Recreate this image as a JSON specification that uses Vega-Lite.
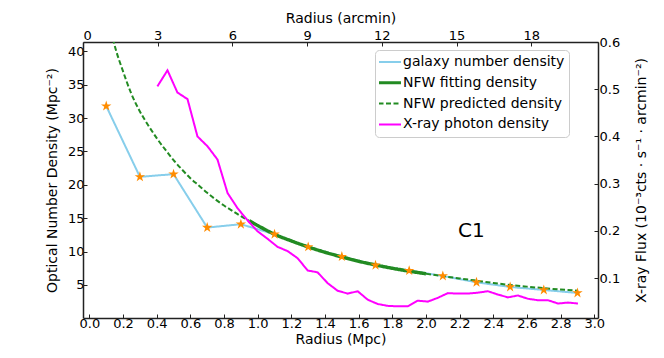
{
  "$schema": "https://vega.github.io/schema/vega-lite/v6.json",
  "width": 515,
  "height": 276,
  "autosize": {"type": "none"},
  "padding": {"left": 83, "top": 42, "right": 66, "bottom": 40},
  "background": "white",
  "config": {
    "view": {"stroke": null},
    "font": "DejaVu Sans",
    "axis": {
      "labelFont": "DejaVu Sans", "labelFontSize": 13, "labelColor": "black",
      "titleFont": "DejaVu Sans", "titleFontSize": 14, "titleFontWeight": "normal", "titleColor": "black",
      "domainColor": "#222", "domainWidth": 1.5, "tickColor": "#222", "tickSize": -4, "tickWidth": 1,
      "grid": false, "labelPadding": 3
    }
  },
  "datasets": {
    "galaxy": [
      {"r": 0.1, "n": 31.8, "series": "galaxy number density"},
      {"r": 0.3, "n": 21.2, "series": "galaxy number density"},
      {"r": 0.5, "n": 21.6, "series": "galaxy number density"},
      {"r": 0.7, "n": 13.6, "series": "galaxy number density"},
      {"r": 0.9, "n": 14.1, "series": "galaxy number density"},
      {"r": 1.1, "n": 12.6, "series": "galaxy number density"},
      {"r": 1.3, "n": 10.7, "series": "galaxy number density"},
      {"r": 1.5, "n": 9.25, "series": "galaxy number density"},
      {"r": 1.7, "n": 7.95, "series": "galaxy number density"},
      {"r": 1.9, "n": 7.15, "series": "galaxy number density"},
      {"r": 2.1, "n": 6.35, "series": "galaxy number density"},
      {"r": 2.3, "n": 5.4, "series": "galaxy number density"},
      {"r": 2.5, "n": 4.7, "series": "galaxy number density"},
      {"r": 2.7, "n": 4.25, "series": "galaxy number density"},
      {"r": 2.9, "n": 3.8, "series": "galaxy number density"}
    ],
    "nfwfit": [
      {"r": 0.95, "n": 14.6, "series": "NFW fitting density"},
      {"r": 1.0, "n": 13.9, "series": "NFW fitting density"},
      {"r": 1.1, "n": 12.6, "series": "NFW fitting density"},
      {"r": 1.2, "n": 11.6, "series": "NFW fitting density"},
      {"r": 1.3, "n": 10.7, "series": "NFW fitting density"},
      {"r": 1.4, "n": 9.9, "series": "NFW fitting density"},
      {"r": 1.5, "n": 9.2, "series": "NFW fitting density"},
      {"r": 1.6, "n": 8.55, "series": "NFW fitting density"},
      {"r": 1.7, "n": 8.0, "series": "NFW fitting density"},
      {"r": 1.8, "n": 7.5, "series": "NFW fitting density"},
      {"r": 1.9, "n": 7.07, "series": "NFW fitting density"},
      {"r": 2.0, "n": 6.68, "series": "NFW fitting density"}
    ],
    "nfwpred": [
      {"r": 0.13, "n": 43.0, "seg": "a", "series": "NFW predicted density"},
      {"r": 0.15, "n": 40.9, "seg": "a", "series": "NFW predicted density"},
      {"r": 0.2, "n": 37.0, "seg": "a", "series": "NFW predicted density"},
      {"r": 0.25, "n": 33.6, "seg": "a", "series": "NFW predicted density"},
      {"r": 0.3, "n": 31.0, "seg": "a", "series": "NFW predicted density"},
      {"r": 0.35, "n": 28.9, "seg": "a", "series": "NFW predicted density"},
      {"r": 0.4, "n": 27.0, "seg": "a", "series": "NFW predicted density"},
      {"r": 0.45, "n": 25.3, "seg": "a", "series": "NFW predicted density"},
      {"r": 0.5, "n": 23.7, "seg": "a", "series": "NFW predicted density"},
      {"r": 0.55, "n": 22.3, "seg": "a", "series": "NFW predicted density"},
      {"r": 0.6, "n": 21.0, "seg": "a", "series": "NFW predicted density"},
      {"r": 0.65, "n": 19.9, "seg": "a", "series": "NFW predicted density"},
      {"r": 0.7, "n": 18.8, "seg": "a", "series": "NFW predicted density"},
      {"r": 0.75, "n": 17.8, "seg": "a", "series": "NFW predicted density"},
      {"r": 0.8, "n": 16.9, "seg": "a", "series": "NFW predicted density"},
      {"r": 0.85, "n": 16.1, "seg": "a", "series": "NFW predicted density"},
      {"r": 0.9, "n": 15.3, "seg": "a", "series": "NFW predicted density"},
      {"r": 0.95, "n": 14.6, "seg": "a", "series": "NFW predicted density"},
      {"r": 2.0, "n": 6.68, "seg": "b", "series": "NFW predicted density"},
      {"r": 2.1, "n": 6.32, "seg": "b", "series": "NFW predicted density"},
      {"r": 2.2, "n": 5.98, "seg": "b", "series": "NFW predicted density"},
      {"r": 2.3, "n": 5.64, "seg": "b", "series": "NFW predicted density"},
      {"r": 2.4, "n": 5.3, "seg": "b", "series": "NFW predicted density"},
      {"r": 2.5, "n": 5.0, "seg": "b", "series": "NFW predicted density"},
      {"r": 2.6, "n": 4.75, "seg": "b", "series": "NFW predicted density"},
      {"r": 2.7, "n": 4.52, "seg": "b", "series": "NFW predicted density"},
      {"r": 2.8, "n": 4.32, "seg": "b", "series": "NFW predicted density"},
      {"r": 2.9, "n": 4.15, "seg": "b", "series": "NFW predicted density"}
    ],
    "xray": [
      {"r": 0.404, "f": 0.506, "series": "X-ray photon density"}, {"r": 0.464, "f": 0.540, "series": "X-ray photon density"}, {"r": 0.523, "f": 0.493, "series": "X-ray photon density"},
      {"r": 0.583, "f": 0.479, "series": "X-ray photon density"}, {"r": 0.642, "f": 0.400, "series": "X-ray photon density"}, {"r": 0.702, "f": 0.379, "series": "X-ray photon density"},
      {"r": 0.761, "f": 0.351, "series": "X-ray photon density"}, {"r": 0.821, "f": 0.280, "series": "X-ray photon density"}, {"r": 0.880, "f": 0.248, "series": "X-ray photon density"},
      {"r": 0.940, "f": 0.222, "series": "X-ray photon density"}, {"r": 0.999, "f": 0.199, "series": "X-ray photon density"}, {"r": 1.059, "f": 0.183, "series": "X-ray photon density"},
      {"r": 1.118, "f": 0.166, "series": "X-ray photon density"}, {"r": 1.178, "f": 0.157, "series": "X-ray photon density"}, {"r": 1.237, "f": 0.142, "series": "X-ray photon density"},
      {"r": 1.297, "f": 0.116, "series": "X-ray photon density"}, {"r": 1.356, "f": 0.112, "series": "X-ray photon density"}, {"r": 1.416, "f": 0.089, "series": "X-ray photon density"},
      {"r": 1.475, "f": 0.073, "series": "X-ray photon density"}, {"r": 1.535, "f": 0.067, "series": "X-ray photon density"}, {"r": 1.594, "f": 0.072, "series": "X-ray photon density"},
      {"r": 1.654, "f": 0.054, "series": "X-ray photon density"}, {"r": 1.713, "f": 0.045, "series": "X-ray photon density"}, {"r": 1.773, "f": 0.041, "series": "X-ray photon density"},
      {"r": 1.832, "f": 0.040, "series": "X-ray photon density"}, {"r": 1.892, "f": 0.040, "series": "X-ray photon density"}, {"r": 1.951, "f": 0.052, "series": "X-ray photon density"},
      {"r": 2.011, "f": 0.050, "series": "X-ray photon density"}, {"r": 2.070, "f": 0.058, "series": "X-ray photon density"}, {"r": 2.130, "f": 0.068, "series": "X-ray photon density"},
      {"r": 2.189, "f": 0.067, "series": "X-ray photon density"}, {"r": 2.249, "f": 0.067, "series": "X-ray photon density"}, {"r": 2.308, "f": 0.069, "series": "X-ray photon density"},
      {"r": 2.368, "f": 0.072, "series": "X-ray photon density"}, {"r": 2.427, "f": 0.065, "series": "X-ray photon density"}, {"r": 2.487, "f": 0.059, "series": "X-ray photon density"},
      {"r": 2.546, "f": 0.063, "series": "X-ray photon density"}, {"r": 2.606, "f": 0.056, "series": "X-ray photon density"}, {"r": 2.665, "f": 0.053, "series": "X-ray photon density"},
      {"r": 2.725, "f": 0.053, "series": "X-ray photon density"}, {"r": 2.784, "f": 0.046, "series": "X-ray photon density"}, {"r": 2.844, "f": 0.048, "series": "X-ray photon density"},
      {"r": 2.903, "f": 0.046, "series": "X-ray photon density"}
    ],
    "label": [{"r": 2.27, "n": 13.1, "t": "C1"}],
    "arcmin": [{"a": 0}, {"a": 18}]
  },
  "resolve": {"scale": {"x": "independent", "y": "independent"}},
  "layer": [
    {
      "data": {"name": "galaxy"},
      "mark": {"type": "line", "strokeWidth": 2, "clip": true},
      "encoding": {
        "x": {"field": "r", "type": "quantitative", "scale": {"domain": [-0.038, 3.022], "nice": false, "zero": false},
              "axis": {"title": "Radius (Mpc)", "values": [0, 0.2, 0.4, 0.6, 0.8, 1.0, 1.2, 1.4, 1.6, 1.8, 2.0, 2.2, 2.4, 2.6, 2.8, 3.0], "format": ".1f", "titlePadding": 2}},
        "y": {"field": "n", "type": "quantitative", "scale": {"domain": [0.05, 41.4], "nice": false, "zero": false},
              "axis": {"title": "Optical Number Density (Mpc⁻²)", "values": [5, 10, 15, 20, 25, 30, 35, 40], "titlePadding": 8}},
        "color": {"field": "series", "type": "nominal",
          "scale": {"domain": ["galaxy number density", "NFW fitting density", "NFW predicted density", "X-ray photon density"],
                    "range": ["#87ceeb", "#228b22", "#228b22", "#ff00ff"]},
          "legend": {
            "title": null, "orient": "none", "legendX": 292, "legendY": 8,
            "symbolType": "stroke", "symbolSize": 900, "symbolStrokeWidth": 2,
            "clipHeight": 16, "rowPadding": 4.8, "padding": 4, "labelOffset": 10,
            "labelFont": "DejaVu Sans", "labelFontSize": 14, "labelColor": "black", "labelLimit": 300,
            "fillColor": "white", "strokeColor": "#cccccc", "cornerRadius": 4,
            "encode": {"symbols": {"update": {
              "strokeWidth": {"signal": "datum.value === 'NFW fitting density' ? 3 : 2"}
            }}}
          }},
        "strokeDash": {"field": "series", "type": "nominal",
          "scale": {"domain": ["galaxy number density", "NFW fitting density", "NFW predicted density", "X-ray photon density"],
                    "range": [[1, 0], [1, 0], [5, 2.5], [1, 0]]},
          "legend": {"title": null}}
      }
    },
    {
      "data": {"name": "nfwfit"},
      "mark": {"type": "line", "strokeWidth": 3.5, "interpolate": "monotone", "clip": true},
      "encoding": {
        "x": {"field": "r", "type": "quantitative", "scale": {"domain": [-0.038, 3.022], "nice": false, "zero": false}, "axis": null},
        "y": {"field": "n", "type": "quantitative", "scale": {"domain": [0.05, 41.4], "nice": false, "zero": false}, "axis": null},
        "color": {"field": "series", "type": "nominal"},
        "strokeDash": {"field": "series", "type": "nominal"}
      }
    },
    {
      "data": {"name": "nfwpred"},
      "mark": {"type": "line", "strokeWidth": 2, "interpolate": "monotone", "clip": true},
      "encoding": {
        "x": {"field": "r", "type": "quantitative", "scale": {"domain": [-0.038, 3.022], "nice": false, "zero": false}, "axis": null},
        "y": {"field": "n", "type": "quantitative", "scale": {"domain": [0.05, 41.4], "nice": false, "zero": false}, "axis": null},
        "color": {"field": "series", "type": "nominal"},
        "strokeDash": {"field": "series", "type": "nominal"},
        "detail": {"field": "seg", "type": "nominal"}
      }
    },
    {
      "data": {"name": "xray"},
      "mark": {"type": "line", "strokeWidth": 2, "clip": true},
      "encoding": {
        "x": {"field": "r", "type": "quantitative", "scale": {"domain": [-0.038, 3.022], "nice": false, "zero": false}, "axis": null},
        "y": {"field": "f", "type": "quantitative", "scale": {"domain": [0.0153, 0.6], "nice": false, "zero": false},
              "axis": {"orient": "right", "title": "X-ray Flux (10⁻³cts · s⁻¹ · arcmin⁻²)", "titleAngle": 270, "titleBaseline": "top", "values": [0.1, 0.2, 0.3, 0.4, 0.5, 0.6], "format": ".1f", "labelPadding": 5, "titlePadding": 15}},
        "color": {"field": "series", "type": "nominal"},
        "strokeDash": {"field": "series", "type": "nominal"}
      }
    },
    {
      "data": {"name": "galaxy"},
      "mark": {"type": "point", "shape": "M0,-1L0.225,-0.309L0.951,-0.309L0.363,0.118L0.588,0.809L0,0.382L-0.588,0.809L-0.363,0.118L-0.951,-0.309L-0.225,-0.309Z", "filled": true, "size": 120, "color": "#ff8c00", "opacity": 1},
      "encoding": {
        "x": {"field": "r", "type": "quantitative", "scale": {"domain": [-0.038, 3.022], "nice": false, "zero": false}, "axis": null},
        "y": {"field": "n", "type": "quantitative", "scale": {"domain": [0.05, 41.4], "nice": false, "zero": false}, "axis": null}
      }
    },
    {
      "data": {"name": "label"},
      "mark": {"type": "text", "fontSize": 20, "font": "DejaVu Sans", "color": "black"},
      "encoding": {
        "x": {"field": "r", "type": "quantitative", "scale": {"domain": [-0.038, 3.022], "nice": false, "zero": false}, "axis": null},
        "y": {"field": "n", "type": "quantitative", "scale": {"domain": [0.05, 41.4], "nice": false, "zero": false}, "axis": null},
        "text": {"field": "t"}
      }
    },
    {
      "data": {"name": "arcmin"},
      "mark": {"type": "point", "opacity": 0},
      "encoding": {
        "x": {"field": "a", "type": "quantitative", "scale": {"domain": [0, 20.68], "nice": false, "zero": false},
              "axis": {"orient": "top", "title": "Radius (arcmin)", "values": [0, 3, 6, 9, 12, 15, 18], "format": "d", "labelPadding": 4, "titlePadding": 4}}
      }
    }
  ]
}
